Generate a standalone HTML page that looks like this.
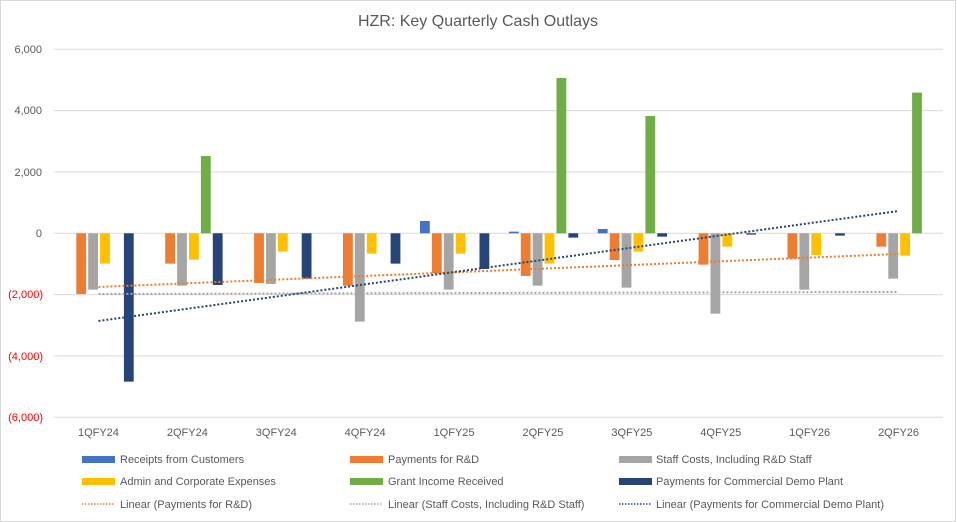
<!DOCTYPE html>
<html><head><meta charset="utf-8"><style>
html,body{margin:0;padding:0;background:#fff;}
svg{display:block;font-family:"Liberation Sans",Arial,sans-serif;}
</style></head><body>
<svg width="957" height="522" viewBox="0 0 957 522" xmlns="http://www.w3.org/2000/svg">
<rect x="0.5" y="0.5" width="955" height="521" fill="#fff" stroke="#d9d9d9"/>
<text x="478" y="26" text-anchor="middle" font-size="16" fill="#595959">HZR: Key Quarterly Cash Outlays</text>
<g stroke="#d9d9d9" stroke-width="1">
<line x1="54" x2="943" y1="49.3" y2="49.3"/>
<line x1="54" x2="943" y1="110.6" y2="110.6"/>
<line x1="54" x2="943" y1="171.9" y2="171.9"/>
<line x1="54" x2="943" y1="233.3" y2="233.3"/>
<line x1="54" x2="943" y1="294.6" y2="294.6"/>
<line x1="54" x2="943" y1="355.9" y2="355.9"/>
<line x1="54" x2="943" y1="417.3" y2="417.3"/>
</g>
<g font-size="11" text-anchor="end">
<text x="42" y="53" fill="#595959">6,000</text>
<text x="42" y="114" fill="#595959">4,000</text>
<text x="42" y="176" fill="#595959">2,000</text>
<text x="42" y="237" fill="#595959">0</text>
<text x="43" y="298" fill="#ff0000">(2,000)</text>
<text x="43" y="360" fill="#ff0000">(4,000)</text>
<text x="43" y="421" fill="#ff0000">(6,000)</text>
</g>
<g id="bars"></g>
<g font-size="11" fill="#595959" text-anchor="middle" id="cats"></g>
<g id="trends"></g>
<g font-size="11" fill="#595959">
<rect x="82" y="456" width="33" height="7" fill="#4472c4"/><text x="120" y="463">Receipts from Customers</text>
<rect x="350" y="456" width="33" height="7" fill="#ed7d31"/><text x="388" y="463">Payments for R&amp;D</text>
<rect x="619" y="456" width="33" height="7" fill="#a5a5a5"/><text x="656" y="463">Staff Costs, Including R&amp;D Staff</text>
<rect x="82" y="478" width="33" height="7" fill="#ffc000"/><text x="120" y="485">Admin and Corporate Expenses</text>
<rect x="350" y="478" width="33" height="7" fill="#70ad47"/><text x="388" y="485">Grant Income Received</text>
<rect x="619" y="478" width="33" height="7" fill="#264478"/><text x="656" y="485">Payments for Commercial Demo Plant</text>
<line x1="82" x2="115" y1="504" y2="504" stroke="#ed7d31" stroke-width="1.5" stroke-dasharray="1.5 1.5"/><text x="120" y="508">Linear (Payments for R&amp;D)</text>
<line x1="350" x2="383" y1="504" y2="504" stroke="#a5a5a5" stroke-width="1.5" stroke-dasharray="1.5 1.5"/><text x="388" y="508">Linear (Staff Costs, Including R&amp;D Staff)</text>
<line x1="619" x2="652" y1="504" y2="504" stroke="#264478" stroke-width="1.5" stroke-dasharray="1.5 1.5"/><text x="656" y="508">Linear (Payments for Commercial Demo Plant)</text>
</g>
<script>
var d=[[0,-1980,-1837,-989,0,-4837],[0,-989,-1707,-859,2522,-1685],[0,-1620,-1652,-598,0,-1478],[0,-1707,-2880,-663,0,-989],[402,-1304,-1837,-663,0,-1163],[54,-1391,-1707,-989,5065,-141],[141,-870,-1772,-598,3826,-109],[0,-1022,-2620,-435,0,-43],[0,-826,-1837,-707,0,-76],[0,-435,-1478,-728,4587,0]];
var c=["#4472c4","#ed7d31","#a5a5a5","#ffc000","#70ad47","#264478"];
var labs=["1QFY24","2QFY24","3QFY24","4QFY24","1QFY25","2QFY25","3QFY25","4QFY25","1QFY26","2QFY26"];
var ns="http://www.w3.org/2000/svg",Z=233.3,S=0.030667,G=88.9;
function y(v){return Z-v*S;}
var b=document.getElementById("bars"),ct=document.getElementById("cats"),tr=document.getElementById("trends");
for(var i=0;i<10;i++){var gx=54+i*G;
for(var j=0;j<6;j++){var v=d[i][j];if(!v)continue;var r=document.createElementNS(ns,"rect");
r.setAttribute("x",gx+10.4+j*11.9);r.setAttribute("width",9.8);
r.setAttribute("y",Math.min(y(v),Z));r.setAttribute("height",Math.abs(v*S));r.setAttribute("fill",c[j]);b.appendChild(r);}
var t=document.createElementNS(ns,"text");t.setAttribute("x",gx+G/2);t.setAttribute("y",436);t.textContent=labs[i];ct.appendChild(t);}
var x0=54+G/2,x1=54+9.5*G;
[[-1978,-1913,"#a5a5a5"],[-1750,-674,"#ed7d31"],[-2859,728,"#264478"]].forEach(function(l){
var e=document.createElementNS(ns,"line");e.setAttribute("x1",x0);e.setAttribute("x2",x1);e.setAttribute("y1",y(l[0]));e.setAttribute("y2",y(l[1]));
e.setAttribute("stroke",l[2]);e.setAttribute("stroke-width",2);e.setAttribute("stroke-dasharray","2 2");tr.appendChild(e);});
</script>
</svg>
</body></html>
